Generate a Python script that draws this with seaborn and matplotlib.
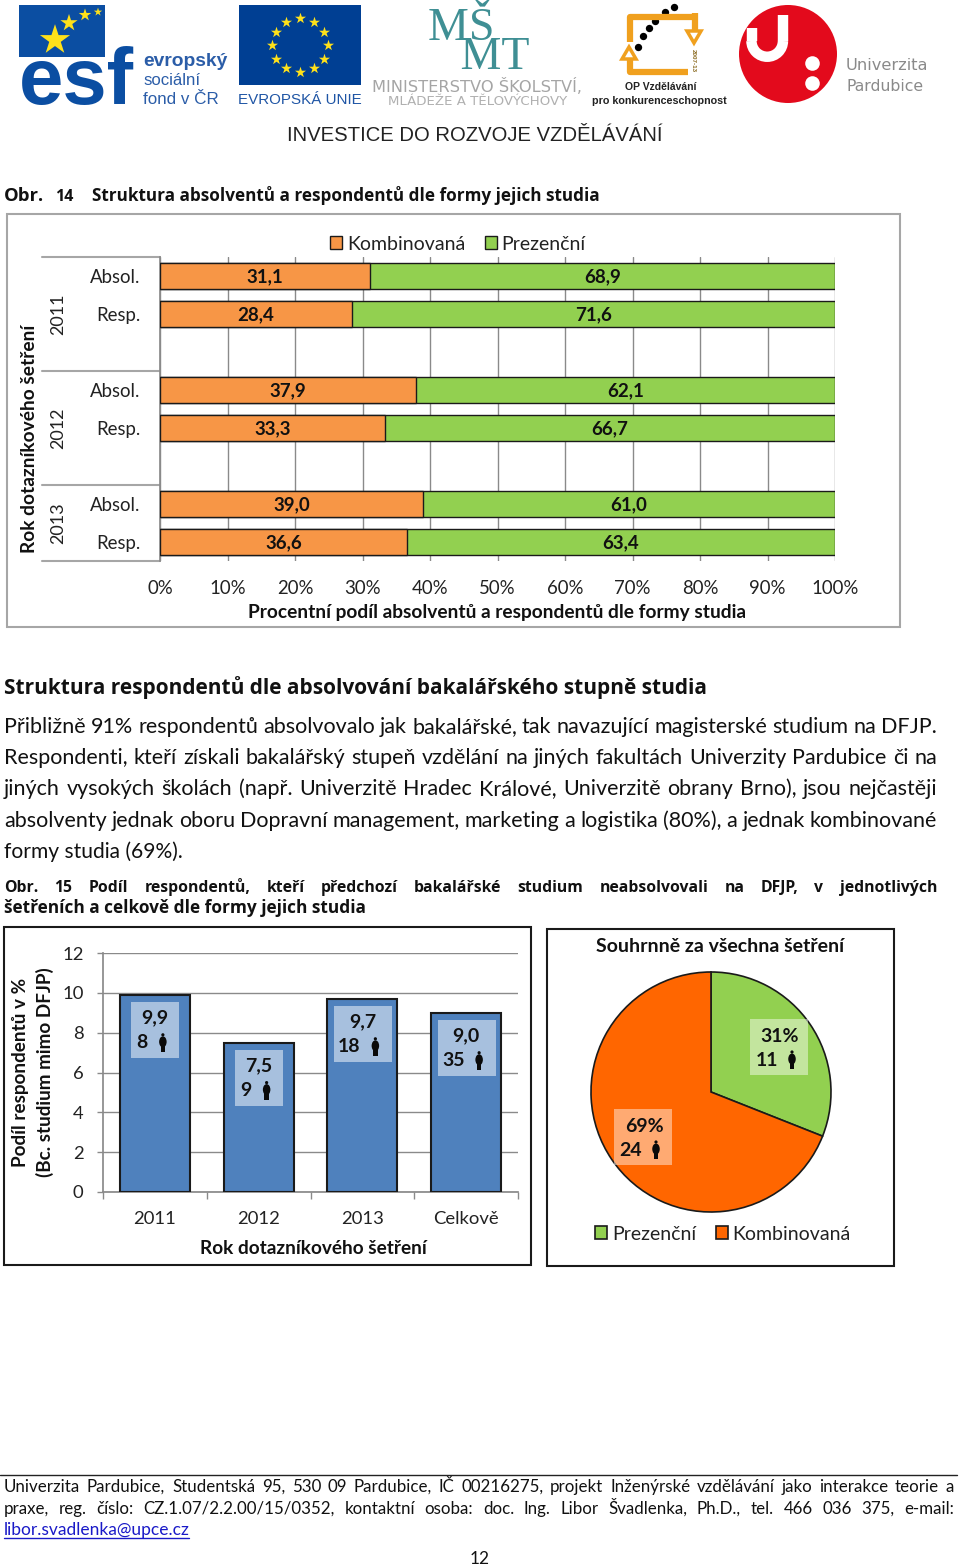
import numpy as np
import pandas as pd
import matplotlib
matplotlib.use('Agg')
import matplotlib.pyplot as plt
import matplotlib.patches as patches
import seaborn as sns

W, H = 960, 1568

# fig 14, stacked bars
row_ids = ['a11', 'r11', 'gap1', 'a12', 'r12', 'gap2', 'a13', 'r13']
row_labels = ['Absol.', 'Resp.', '', 'Absol.', 'Resp.', '', 'Absol.', 'Resp.']
kombi = [31.1, 28.4, np.nan, 37.9, 33.3, np.nan, 39.0, 36.6]
prez = [68.9, 71.6, np.nan, 62.1, 66.7, np.nan, 61.0, 63.4]
kombi_txt = ['31,1', '28,4', '', '37,9', '33,3', '', '39,0', '36,6']
prez_txt = ['68,9', '71,6', '', '62,1', '66,7', '', '61,0', '63,4']
years14 = ['2011', '2012', '2013']
pct_ticks = [0, 10, 20, 30, 40, 50, 60, 70, 80, 90, 100]

# fig 15, bars
cats15 = ['2011', '2012', '2013', 'Celkově']
share15 = [9.9, 7.5, 9.7, 9.0]
share15_txt = ['9,9', '7,5', '9,7', '9,0']
count15 = ['8', '9', '18', '35']
y_ticks15 = [0, 2, 4, 6, 8, 10, 12]

# fig 15, pie
pie_names = ['Prezenční', 'Kombinovaná']
pie_vals = [31, 69]
pie_pct = ['31%', '69%']
pie_count = ['11', '24']

ORANGE = '#F79646'
GREEN = '#92D050'
BLUE = '#4F81BD'
PIE_ORANGE = '#FF6600'
DARK = '#1a1a1a'
GRID = '#8a8a8a'
HEAD_FONT = 'Open Sans'
OP_ORANGE = '#F0A01E'

sns.set_theme(style='white')
plt.rcParams['font.family'] = ['Lato', 'DejaVu Sans']

fig = plt.figure(figsize=(W / 100, H / 100), dpi=100, facecolor='white')
renderer = fig.canvas.get_renderer()


def px_axes(x0, y0, x1, y1, **kw):
    return fig.add_axes([x0 / W, 1 - y1 / H, (x1 - x0) / W, (y1 - y0) / H], **kw)


page = fig.add_axes([0, 0, 1, 1], zorder=10)
page.set_xlim(0, W)
page.set_ylim(H, 0)
page.axis('off')
page.patch.set_alpha(0)


def to_page(ax, x, y):
    dx, dy = ax.transData.transform((x, y))
    return dx, H - dy


def fit(x0, x1, y, s, bold=False, color='#111111', family=None, **kw):
    # scale the font until the string spans x0..x1
    t = page.text(x0, y, s, fontsize=12, va='baseline', ha='left', color=color,
                  fontweight='bold' if bold else 'normal', **kw)
    if family:
        t.set_family(family)
    width = t.get_window_extent(renderer).width
    t.set_fontsize(12 * (x1 - x0) / width)
    return t


def justify(x0, x1, y, s, size, bold=False, color='#111111', family=None):
    words = s.split()
    items = [page.text(0, y, w, fontsize=size, va='baseline', color=color,
                       fontweight='bold' if bold else 'normal') for w in words]
    if family:
        for item in items:
            item.set_family(family)
    widths = [i.get_window_extent(renderer).width for i in items]
    gap = (x1 - x0 - sum(widths)) / (len(words) - 1)
    x = x0
    for item, wd in zip(items, widths):
        item.set_x(x)
        x += wd + gap


def person(x, y):
    # small figure icon, y is its vertical middle
    page.add_patch(patches.Ellipse((x, y - 1), 7.5, 11, color='#0a0a0a', lw=0))
    page.add_patch(patches.Rectangle((x - 2.3, y + 2), 4.6, 7, color='#0a0a0a', lw=0))
    page.add_patch(patches.Circle((x, y - 8), 1.6, color='#0a0a0a', lw=0))


def frame(x0, y0, x1, y1, color, lw=1.5):
    page.add_patch(patches.Rectangle((x0, y0), x1 - x0, y1 - y0, fill=False, ec=color, lw=lw))


# logos -------------------------------------------------------------
page.add_patch(patches.Rectangle((19, 5), 86, 52, color='#0B4EA2', lw=0))
fit(19, 133, 104, 'esf', bold=True, color='#0B4EA2', family='Liberation Sans')
page.scatter([55, 69, 85, 98], [40, 23, 15, 12], s=[520, 170, 90, 40], marker='*',
             color='#FFE11A', lw=0, zorder=5)
fit(143, 227, 66, 'evropský', bold=True, color='#2B5DA8', family='Liberation Sans')
fit(143, 200, 85, 'sociální', color='#2B5DA8', family='Liberation Sans')
fit(143, 219, 104, 'fond v ČR', color='#2B5DA8', family='Liberation Sans')

page.add_patch(patches.Rectangle((239, 5), 122, 80, color='#003F93', lw=0))
ang = np.deg2rad(np.arange(0, 360, 30))
page.scatter(300 + 28 * np.cos(ang), 45 + 27 * np.sin(ang), s=70, marker='*', color='#FFE11A', lw=0)
fit(238, 361, 104, 'EVROPSKÁ UNIE', color='#1F55A5', family='Liberation Sans')

# one text object, the trailing/leading spaces stagger the two lines
page.text(478, 79, 'MŠ   \n   MT', fontsize=33, color='#3F8F94', family='Liberation Serif',
          ha='center', va='bottom', multialignment='center', linespacing=0.58)
fit(372, 581, 92, 'MINISTERSTVO ŠKOLSTVÍ,', color='#a5a5a5', family='DejaVu Sans')
fit(388, 567, 105, 'MLÁDEŽE A TĚLOVÝCHOVY', color='#b0b0b0', family='DejaVu Sans')

page.plot([695, 695], [30, 13], color=OP_ORANGE, lw=4.5, solid_capstyle='butt')
page.plot([695, 630, 630], [16.5, 16.5, 42], color=OP_ORANGE, lw=4.5, solid_capstyle='butt')
page.plot([630, 630, 688], [60, 71.5, 71.5], color=OP_ORANGE, lw=4.5, solid_capstyle='butt')
page.add_patch(patches.Polygon([[687, 31], [701, 31], [694, 43]], fc='white', ec=OP_ORANGE, lw=2.5))
page.add_patch(patches.Polygon([[622, 59], [636, 59], [629, 47]], fc='white', ec=OP_ORANGE, lw=2.5))
page.scatter([638, 643, 649, 655, 665, 674], [47, 36, 28, 21, 12, 7], s=28, color='black', lw=0)
page.text(693, 61, '2007-13', rotation=270, fontsize=4.5, fontweight='bold', ha='center', va='center',
          color='#8a6a20', family='Liberation Sans')
fit(625, 696, 90, 'OP Vzdělávání', bold=True, color='#222222', family='Liberation Sans')
fit(592, 727, 104, 'pro konkurenceschopnost', bold=True, color='#222222', family='Liberation Sans')

page.add_patch(patches.Circle((788, 54), 49, color='#E30A1C', lw=0))
page.plot([751.5, 751.5], [28, 41], color='white', lw=7.5, solid_capstyle='butt')
page.plot([783, 783], [15, 41], color='white', lw=7.5, solid_capstyle='butt')
page.add_patch(patches.Arc((767.2, 41), 31.5, 31.5, theta1=0, theta2=180, color='white', lw=7.5))
page.scatter([812, 812], [63, 83], s=110, color='white', lw=0)
fit(846, 928, 70, 'Univerzita', color='#8a8a8a', family='DejaVu Sans')
fit(846, 923, 91, 'Pardubice', color='#8a8a8a', family='DejaVu Sans')

fit(287, 662, 141, 'INVESTICE DO ROZVOJE VZDĚLÁVÁNÍ', color='#222222', family='Liberation Sans')

# page text -----------------------------------------------------------
fit(4, 44, 201, 'Obr.', bold=True, family=HEAD_FONT)
page.text(55, 201, '14', fontsize=11.5, fontweight='bold', va='baseline', color='#111111', family=HEAD_FONT)
fit(92, 600, 201, 'Struktura absolventů a respondentů dle formy jejich studia', bold=True, family=HEAD_FONT)
fit(4, 705, 694, 'Struktura respondentů dle absolvování bakalářského stupně studia', bold=True, family=HEAD_FONT)

justify(4, 937, 733, 'Přibližně 91% respondentů absolvovalo jak bakalářské, tak navazující magisterské studium na DFJP.', 15.5)
justify(4, 937, 764, 'Respondenti, kteří získali bakalářský stupeň vzdělání na jiných fakultách Univerzity Pardubice či na', 15.5)
justify(4, 937, 795, 'jiných vysokých školách (např. Univerzitě Hradec Králové, Univerzitě obrany Brno), jsou nejčastěji', 15.5)
justify(4, 937, 827, 'absolventy jednak oboru Dopravní management, marketing a logistika (80%), a jednak kombinované', 15.5)
fit(4, 182, 858, 'formy studia (69%).')

justify(4, 937, 892, 'Obr. 15 Podíl respondentů, kteří předchozí bakalářské studium neabsolvovali na DFJP, v jednotlivých', 11.3, bold=True, family=HEAD_FONT)
fit(4, 366, 913, 'šetřeních a celkově dle formy jejich studia', bold=True, family=HEAD_FONT)

page.plot([0, 957], [1475, 1475], color='#222222', lw=1)
justify(4, 954, 1492, 'Univerzita Pardubice, Studentská 95, 530 09 Pardubice, IČ 00216275, projekt Inženýrské vzdělávání jako interakce teorie a', 12.2)
justify(4, 954, 1514, 'praxe, reg. číslo: CZ.1.07/2.2.00/15/0352, kontaktní osoba: doc. Ing. Libor Švadlenka, Ph.D., tel. 466 036 375, e-mail:', 12.2)
fit(4, 189, 1535, 'libor.svadlenka@upce.cz', color='#1A1AC8')
page.plot([4, 189], [1538, 1538], color='#1A1AC8', lw=1)
fit(470, 490, 1564, '12')

# fig 14 --------------------------------------------------------------
frame(7, 214, 900, 627, '#A6A6A6')
ax1 = px_axes(160, 257, 835, 561)
df14 = pd.DataFrame({'row': row_ids, 'kombi': kombi, 'prez': prez})
df14['celkem'] = df14['kombi'] + df14['prez']
sns.barplot(data=df14, y='row', x='celkem', order=row_ids, color=GREEN, saturation=1,
            width=0.66, edgecolor=DARK, linewidth=1, ax=ax1, zorder=3)
sns.barplot(data=df14, y='row', x='kombi', order=row_ids, color=ORANGE, saturation=1,
            width=0.66, edgecolor=DARK, linewidth=1, ax=ax1, zorder=4)
ax1.set_xlim(0, 100)
ax1.set_ylim(7.5, -0.5)
ax1.set_xlabel('')
ax1.set_ylabel('')
ax1.set_xticks(pct_ticks, [f'{p}%' for p in pct_ticks], fontsize=13.4, color='#222222')
ax1.set_yticks(range(len(row_ids)), row_labels, fontsize=13.4, color='#222222')
ax1.tick_params(axis='y', length=0, pad=14)
ax1.tick_params(axis='x', length=0, pad=13.5)
ax1.xaxis.grid(True, color=GRID, lw=1)
ax1.set_axisbelow(True)
sns.despine(ax=ax1, top=True, right=True, bottom=True)
ax1.spines['left'].set_color(GRID)
ytrans = ax1.get_yaxis_transform()
for b in [-0.5, 2.5, 5.5, 7.5]:
    ax1.plot([(42 - 160) / 675, 0], [b, b], transform=ytrans, color='#A6A6A6', lw=1.5, clip_on=False)
for yr, c in zip(years14, [1, 4, 6.5]):
    _, yp = to_page(ax1, 0, c)
    page.text(58, yp, yr, rotation=90, ha='center', va='center', fontsize=13, color='#222222')
for i in range(len(row_ids)):
    if not kombi_txt[i]:
        continue
    xp, yp = to_page(ax1, kombi[i] / 2, i)
    page.text(xp, yp + 1, kombi_txt[i], ha='center', va='center', fontsize=13.5, fontweight='bold', color='#111111')
    xp, yp = to_page(ax1, kombi[i] + prez[i] / 2, i)
    page.text(xp, yp + 1, prez_txt[i], ha='center', va='center', fontsize=13.5, fontweight='bold', color='#111111')
page.text(30, 439, 'Rok dotazníkového šetření', rotation=90, ha='center', va='center',
          fontsize=13.8, fontweight='bold', color='#111111')
page.text(497, 612, 'Procentní podíl absolventů a respondentů dle formy studia', ha='center', va='center',
          fontsize=13.8, fontweight='bold', color='#111111')
ax1.legend(handles=[patches.Patch(fc=ORANGE, ec=DARK, label='Kombinovaná'),
                    patches.Patch(fc=GREEN, ec=DARK, label='Prezenční')],
           ncol=2, frameon=False, fontsize=14, handlelength=0.62, handleheight=0.62,
           handletextpad=0.25, columnspacing=1.0, loc='center',
           bbox_to_anchor=(458 / W, 1 - 244 / H), bbox_transform=fig.transFigure, labelcolor='#222222')

# fig 15 bars ---------------------------------------------------------
frame(4, 927, 531, 1265, DARK)
ax2 = px_axes(103, 953, 518, 1192)
sns.barplot(x=cats15, y=share15, color=BLUE, saturation=1, width=0.675,
            edgecolor=DARK, linewidth=1.5, ax=ax2, zorder=3)
ax2.set_xlim(-0.5, 3.5)
ax2.set_ylim(0, 12)
ax2.set_yticks(y_ticks15, [str(t) for t in y_ticks15], fontsize=13.3, color='#222222')
ax2.tick_params(axis='y', length=4, width=1, color=GRID, pad=10, left=True)
ax2.tick_params(axis='x', which='major', length=0, pad=13.5, labelsize=13.3, labelcolor='#222222')
ax2.set_xticks(np.arange(-0.5, 4), minor=True)
ax2.tick_params(axis='x', which='minor', length=5, width=1, color=GRID, bottom=True)
ax2.yaxis.grid(True, color=GRID, lw=1)
ax2.set_axisbelow(True)
sns.despine(ax=ax2, top=True, right=True)
ax2.spines['left'].set_color(GRID)
ax2.spines['bottom'].set_color(GRID)
for i, cat in enumerate(cats15):
    xc, ytop = to_page(ax2, i, share15[i])
    half = 24 if len(count15[i]) == 1 else 29
    shift = 0 if len(count15[i]) == 1 else 1
    page.add_patch(patches.Rectangle((xc - half + shift, ytop + 7), 2 * half, 56, color='white', alpha=0.5, lw=0))
    page.text(xc, ytop + 23, share15_txt[i], ha='center', va='center', fontsize=14, fontweight='bold', color='#111111')
    page.text(xc - 13, ytop + 48, count15[i], ha='center', va='center', fontsize=14, fontweight='bold', color='#111111')
    person(xc + (8 if len(count15[i]) == 1 else 13), ytop + 48)
page.text(313, 1249, 'Rok dotazníkového šetření', ha='center', va='center', fontsize=13.7, fontweight='bold', color='#111111')
page.text(33, 1072, 'Podíl respondentů v %\n(Bc. studium mimo DFJP)', rotation=90, ha='center', va='center',
          fontsize=13.6, fontweight='bold', color='#111111', linespacing=1.4, multialignment='center')

# fig 15 pie ----------------------------------------------------------
frame(547, 929, 894, 1266, DARK)
ax3 = px_axes(591, 972, 831, 1212)
wedges, _ = ax3.pie(pie_vals, colors=[GREEN, PIE_ORANGE], startangle=90, counterclock=False, radius=1,
                    wedgeprops={'edgecolor': DARK, 'linewidth': 1.2})
ax3.set_xlim(-1, 1)
ax3.set_ylim(-1, 1)
page.text(720.5, 946, 'Souhrnně za všechna šetření', ha='center', va='center', fontsize=14, fontweight='bold', color='#111111')
for i, (bx, by) in enumerate([(750, 1019), (614, 1109)]):
    page.add_patch(patches.Rectangle((bx, by), 58, 56, color='white', alpha=0.45, lw=0))
    page.text(bx + 30, by + 17, pie_pct[i], ha='center', va='center', fontsize=14, fontweight='bold', color='#111111')
    page.text(bx + 17, by + 41, pie_count[i], ha='center', va='center', fontsize=14, fontweight='bold', color='#111111')
    person(bx + 42, by + 41)
ax3.legend(wedges, pie_names, ncol=2, frameon=False, fontsize=14, handlelength=0.62, handleheight=0.62,
           handletextpad=0.25, columnspacing=1.0, loc='center', labelcolor='#222222',
           bbox_to_anchor=(723 / W, 1 - 1234 / H), bbox_transform=fig.transFigure)

fig.savefig('out.png', dpi=100)
